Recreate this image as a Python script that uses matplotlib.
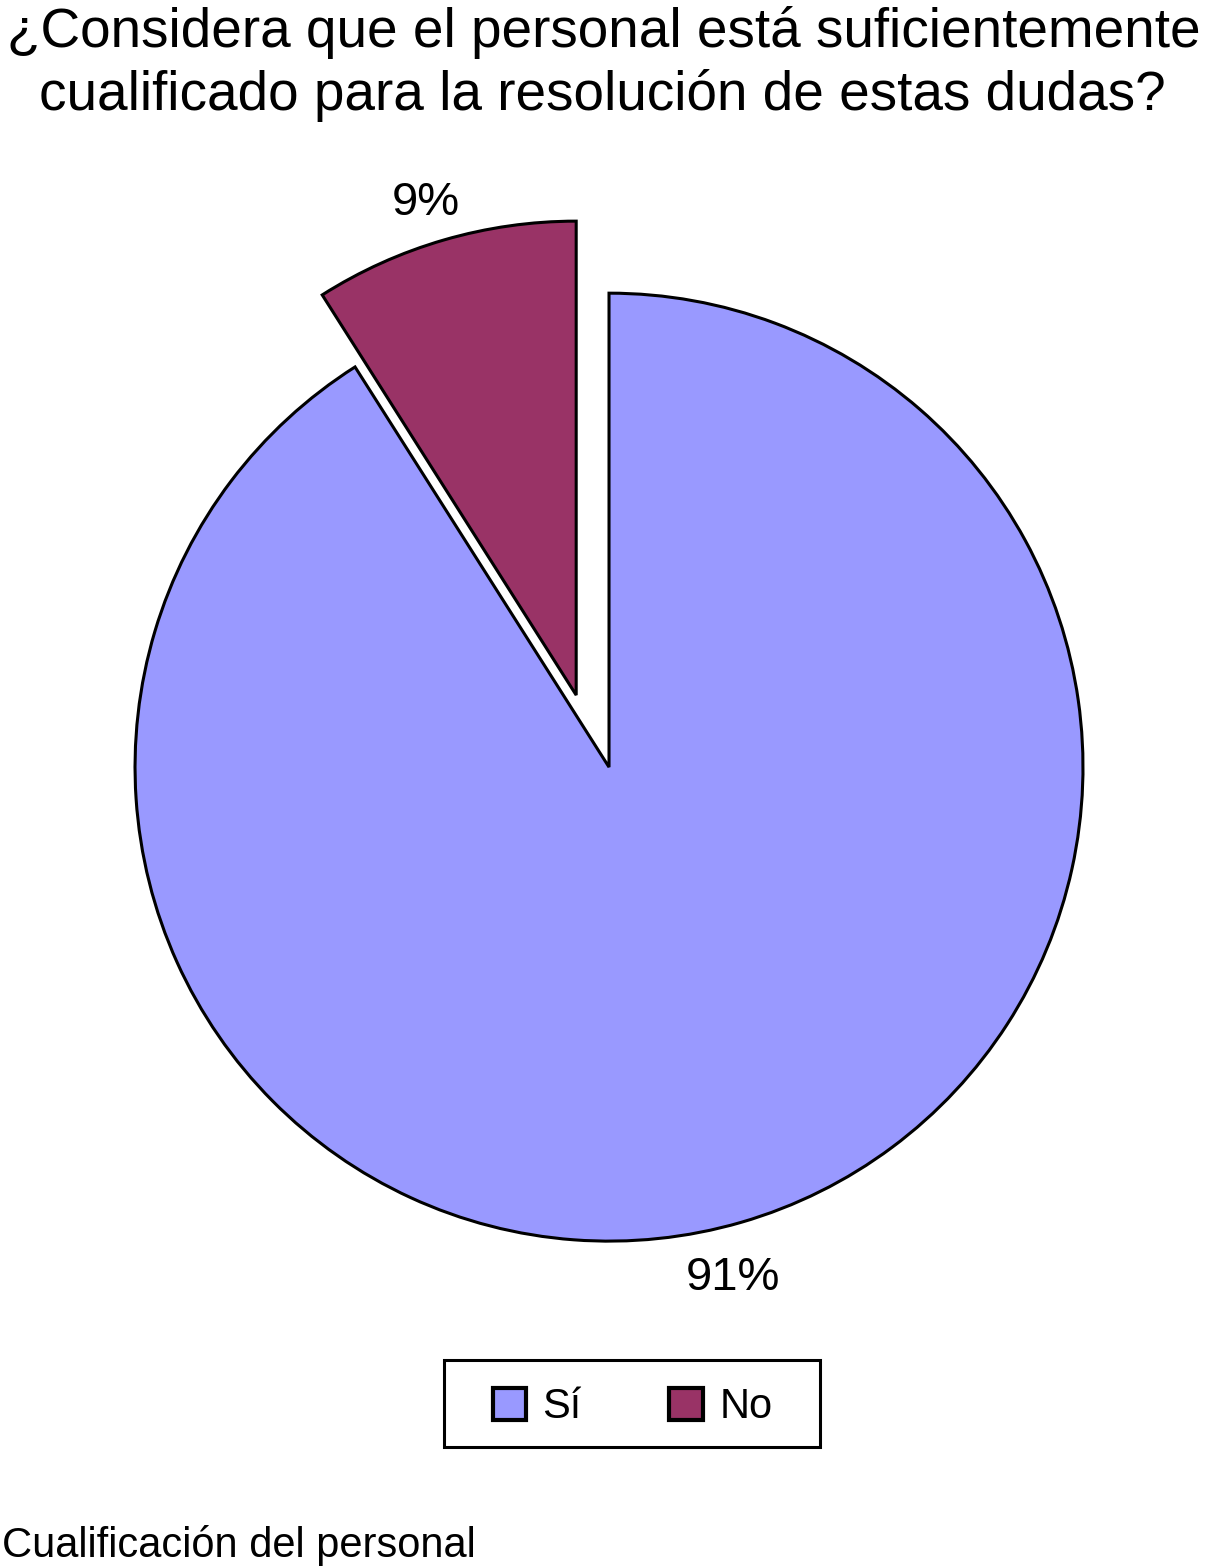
import numpy as np
import matplotlib.pyplot as plt
from matplotlib.patches import Rectangle

plt.rcParams['font.family'] = ['Liberation Sans', 'DejaVu Sans']

categories = ['Sí', 'No']
values = [91, 9]
colors = ['#9999FF', '#993366']

title_lines = ['¿Considera que el personal está suficientemente',
               'cualificado para la resolución de estas dudas?']
footer = 'Cualificación del personal'

W, H = 1207, 1568
fig = plt.figure(figsize=(W / 100, H / 100), dpi=100)
ax = fig.add_axes([0.01367, 0.1329, 0.9818, 0.7557])

wedges, texts, autotexts = ax.pie(
    values, colors=colors, startangle=90, counterclock=False,
    autopct='%1.0f%%', pctdistance=1.12,
    wedgeprops=dict(edgecolor='black', linewidth=2.2),
    textprops=dict(fontsize=34, color='black'),
)

# pull out the "No" slice (offset direction as in the original)
ang = np.deg2rad(114.5)
off = 0.167 * np.array([np.cos(ang), np.sin(ang)])
wedges[1].set_center(tuple(off))
x, y = autotexts[1].get_position()
autotexts[1].set_position((x + off[0] - 0.004, y + off[1] - 0.037))
x, y = autotexts[0].get_position()
autotexts[0].set_position((x - 0.052, y - 0.003))

ax.set_xlim(-1.25, 1.25)
ax.set_ylim(-1.25, 1.25)
ax.set_aspect('equal')

fig.text(0.5, 1 - 47 / H, title_lines[0], ha='center', va='baseline', fontsize=39.5)
fig.text(0.499, 1 - 110 / H, title_lines[1], ha='center', va='baseline', fontsize=39.5)
fig.text(0.002, 1 - 1557 / H, footer, ha='left', va='baseline', fontsize=30)

leg = fig.legend(wedges, categories, loc='center', bbox_to_anchor=(0.524, 0.1025),
                 ncol=2, fontsize=30, frameon=False,
                 handlelength=0.8, handleheight=0.8,
                 handletextpad=0.4, columnspacing=2.1, borderaxespad=0)
for h in leg.legend_handles:
    h.set_linewidth(3)
fig.patches.append(Rectangle((444 / W, 1 - 1447 / H), 376 / W, 87 / H,
                             transform=fig.transFigure, fill=False,
                             edgecolor='black', linewidth=2.2))

fig.savefig('out.png', dpi=100)
